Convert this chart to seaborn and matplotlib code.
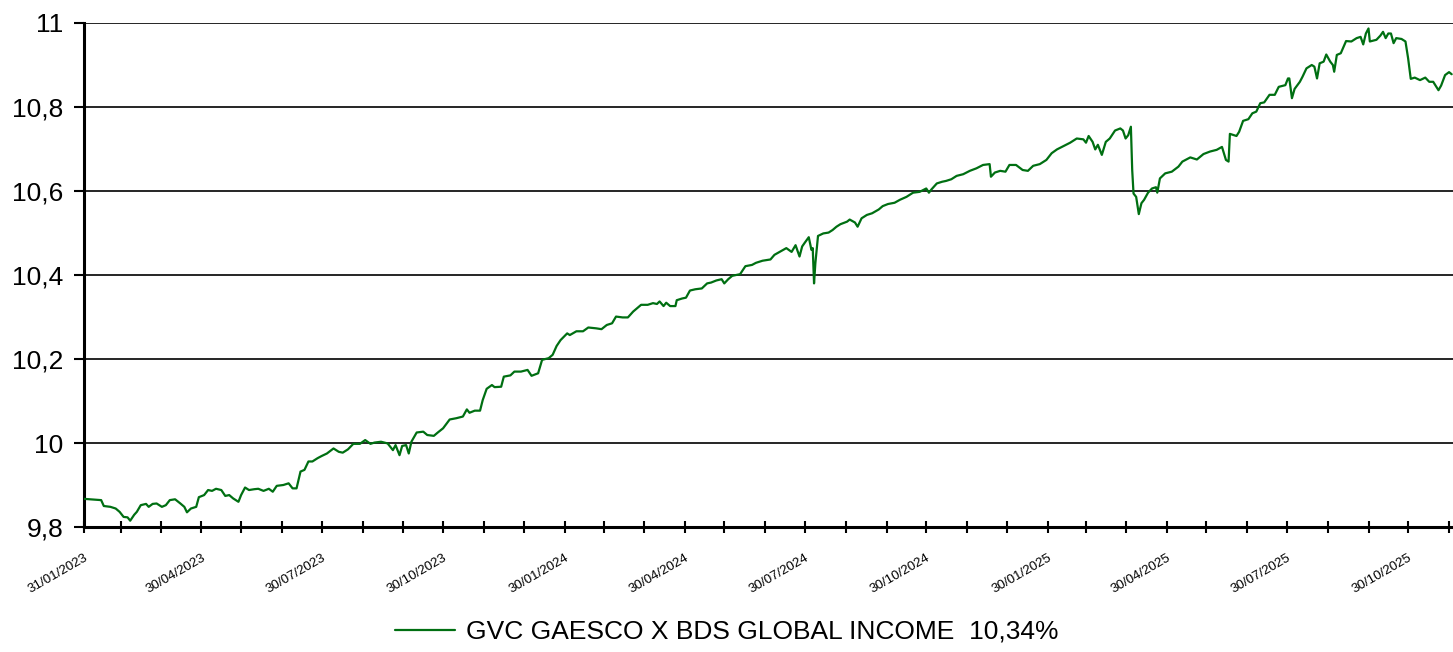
import pandas as pd
import numpy as np
import seaborn as sns
import matplotlib.pyplot as plt
import matplotlib.dates as mdates

# Valor liquidativo (dias desde el 31/01/2023)
fecha_inicio = pd.Timestamp("2023-01-31")
fecha_fin = fecha_inicio + pd.Timedelta(days=1037)

dias = [
    0, 13, 15, 20, 24, 27, 30, 33, 35, 38, 40, 43, 47, 49, 52, 55, 59, 62, 65, 69,
    73, 76, 78, 81, 85, 87, 91, 94, 97, 100, 104, 107, 110, 113, 117, 119, 122, 125, 129, 132,
    136, 140, 143, 146, 151, 155, 158, 161, 164, 167, 170, 173, 177, 180, 184, 189,
    193, 196, 200, 204, 209, 213, 217, 220, 225, 230, 234, 236, 239, 241, 244, 246, 248, 252, 257, 260,
    265, 268, 272, 277, 282, 287, 290, 292, 296, 300, 302, 305, 309, 311, 316, 318, 323, 326, 331, 336,
    339, 344, 347, 352, 355, 358, 361, 366, 368, 373, 378, 382,
    388, 392, 396, 400, 403, 408, 412, 416, 419, 422, 427, 431, 434, 436, 439, 441, 444, 448, 449, 453,
    456, 459, 463, 468, 472, 475, 479, 483, 485, 488, 491, 497, 501, 506, 509, 514, 520, 523, 527, 532,
    536, 539, 542, 544, 546, 549, 551, 552, 553, 554, 556,
    560, 564, 567, 570, 573, 578, 580, 584, 586, 589, 593, 597, 602, 605, 609, 614, 618, 623, 628, 633,
    638, 640, 642, 646, 650, 653, 657, 661, 666, 671, 676, 681, 686, 687, 690, 694, 698, 701, 706, 711,
    715, 719, 724, 729, 733, 737,
    742, 747, 752, 757, 759, 761, 764, 766, 768, 771, 774, 777, 781, 785, 787, 789, 791, 793, 794, 795,
    797, 799, 801, 803, 806, 809, 812, 813, 815, 819, 824, 829, 832, 838, 843, 848, 853, 858, 862, 865,
    867, 868, 873, 875, 878, 882,
    885, 888, 891, 894, 898, 902, 905, 910, 912, 913, 915, 917, 921, 923, 926, 930, 932, 934, 936, 939,
    941, 944, 946, 947, 949, 952, 956, 960, 964, 967, 969, 971, 973, 974, 979, 982, 984, 986, 988, 990,
    992, 994, 998, 1001, 1003, 1005, 1008, 1012, 1016, 1019, 1022, 1026, 1028, 1031, 1034, 1036,
]

valor = [
    9.867, 9.864, 9.850, 9.848, 9.844, 9.836, 9.824, 9.823, 9.815, 9.829, 9.836, 9.852, 9.855, 9.848, 9.855, 9.856, 9.848, 9.852, 9.864, 9.866,
    9.856, 9.848, 9.835, 9.844, 9.848, 9.871, 9.876, 9.888, 9.886, 9.891, 9.888, 9.874, 9.876, 9.868, 9.860, 9.876, 9.894, 9.888, 9.890, 9.891,
    9.886, 9.891, 9.884, 9.898, 9.900, 9.904, 9.892, 9.892, 9.932, 9.936, 9.956, 9.956, 9.964, 9.969, 9.975, 9.987,
    9.979, 9.977, 9.985, 9.998, 9.998, 10.007, 9.998, 10.001, 10.003, 9.999, 9.983, 9.995, 9.971, 9.993, 9.995, 9.975, 10.003, 10.025, 10.027, 10.019,
    10.017, 10.025, 10.035, 10.056, 10.059, 10.063, 10.080, 10.072, 10.077, 10.077, 10.102, 10.129, 10.138, 10.133, 10.134, 10.158, 10.161, 10.170, 10.170, 10.174,
    10.160, 10.166, 10.198, 10.202, 10.210, 10.231, 10.245, 10.261, 10.257, 10.266, 10.266, 10.275,
    10.273, 10.271, 10.281, 10.285, 10.301, 10.299, 10.299, 10.313, 10.321, 10.329, 10.329, 10.333, 10.331, 10.337, 10.326, 10.334, 10.326, 10.326, 10.340, 10.344,
    10.346, 10.363, 10.366, 10.368, 10.380, 10.382, 10.387, 10.390, 10.380, 10.390, 10.398, 10.402, 10.421, 10.424, 10.429, 10.434, 10.437, 10.448, 10.455, 10.464,
    10.455, 10.471, 10.444, 10.468, 10.477, 10.490, 10.460, 10.464, 10.380, 10.428, 10.493,
    10.499, 10.501, 10.507, 10.515, 10.521, 10.527, 10.532, 10.525, 10.515, 10.535, 10.543, 10.547, 10.556, 10.564, 10.569, 10.572, 10.579, 10.586, 10.596, 10.598,
    10.606, 10.596, 10.604, 10.618, 10.622, 10.624, 10.628, 10.636, 10.640, 10.648, 10.654, 10.662, 10.664, 10.634, 10.644, 10.648, 10.646, 10.662, 10.662, 10.650,
    10.648, 10.660, 10.664, 10.674, 10.690, 10.699,
    10.707, 10.715, 10.725, 10.723, 10.715, 10.731, 10.717, 10.699, 10.710, 10.686, 10.717, 10.725, 10.744, 10.749, 10.744, 10.725, 10.733, 10.753, 10.650, 10.594,
    10.586, 10.545, 10.571, 10.579, 10.596, 10.606, 10.609, 10.596, 10.630, 10.642, 10.646, 10.658, 10.670, 10.680, 10.675, 10.688, 10.694, 10.698, 10.705, 10.674,
    10.670, 10.736, 10.731, 10.741, 10.767, 10.771,
    10.785, 10.789, 10.809, 10.811, 10.829, 10.829, 10.848, 10.852, 10.868, 10.868, 10.821, 10.843, 10.860, 10.872, 10.892, 10.900, 10.896, 10.868, 10.904, 10.908,
    10.925, 10.908, 10.900, 10.884, 10.924, 10.928, 10.957, 10.956, 10.964, 10.967, 10.949, 10.975, 10.987, 10.956, 10.960, 10.970, 10.979, 10.964, 10.975, 10.975,
    10.952, 10.964, 10.962, 10.956, 10.916, 10.867, 10.870, 10.864, 10.870, 10.860, 10.860, 10.840, 10.851, 10.876, 10.883, 10.878,
]

y_ticks = [9.8, 10.0, 10.2, 10.4, 10.6, 10.8, 11.0]
etiqueta = "GVC GAESCO X BDS GLOBAL INCOME  10,34%"
verde = "#006f12"

df = pd.DataFrame({"fecha": fecha_inicio + pd.to_timedelta(dias, unit="D"), "valor": valor})

# Marcas mensuales (dia 30 o ultimo dia del mes), etiqueta cada 3 meses
meses = pd.period_range("2023-02", "2025-11", freq="M")
marcas = [fecha_inicio] + [pd.Timestamp(p.year, p.month, min(30, p.days_in_month)) for p in meses]
marcas_lbl = marcas[::3]

sns.set_style("white")
plt.rcParams["font.family"] = ["Liberation Sans", "DejaVu Sans"]
plt.rcParams["text.color"] = "black"
plt.rcParams["xtick.color"] = "black"
plt.rcParams["ytick.color"] = "black"

fig = plt.figure(figsize=(14.53, 6.52), dpi=100)
ax = fig.add_axes([84 / 1453, 1 - 527 / 652, 1 - 84 / 1453, (527 - 23) / 652])

sns.lineplot(data=df, x="fecha", y="valor", ax=ax, color=verde, linewidth=1.6,
             label=etiqueta, legend=False, zorder=3)

ax.set_xlim(fecha_inicio, fecha_fin)
ax.set_ylim(9.8, 11.0)
ax.set_yticks(y_ticks)
ax.set_yticklabels([f"{v:g}".replace(".", ",") for v in y_ticks])

ax.set_xticks(mdates.date2num(marcas_lbl))
ax.set_xticklabels([d.strftime("%d/%m/%Y") for d in marcas_lbl])
ax.set_xticks(mdates.date2num(marcas), minor=True)

ax.yaxis.grid(True, color="black", linewidth=1.2)
ax.xaxis.grid(False)
ax.set_axisbelow(True)

for s in ["top", "right"]:
    ax.spines[s].set_visible(False)
for s in ["left", "bottom"]:
    ax.spines[s].set_linewidth(2.2)
    ax.spines[s].set_color("black")

ax.tick_params(axis="y", left=True, direction="out", length=7, width=1.5, pad=8,
               labelsize=19, colors="black")
ax.tick_params(axis="x", which="both", bottom=True, direction="inout", length=8, width=1.5,
               pad=14, labelsize=9.6, colors="black")
ax.tick_params(axis="x", which="minor", labelbottom=False)
for lbl in ax.get_xticklabels():
    lbl.set_rotation(30)
    lbl.set_ha("right")
    lbl.set_rotation_mode("anchor")

ax.set_xlabel("")
ax.set_ylabel("")

h, l = ax.get_legend_handles_labels()
fig.legend(h, l, loc="center", bbox_to_anchor=(0.5, 1 - 632 / 652), frameon=False,
           fontsize=19, handlelength=2.3, handletextpad=0.4, labelcolor="black")

fig.savefig("out.png", dpi=100)
